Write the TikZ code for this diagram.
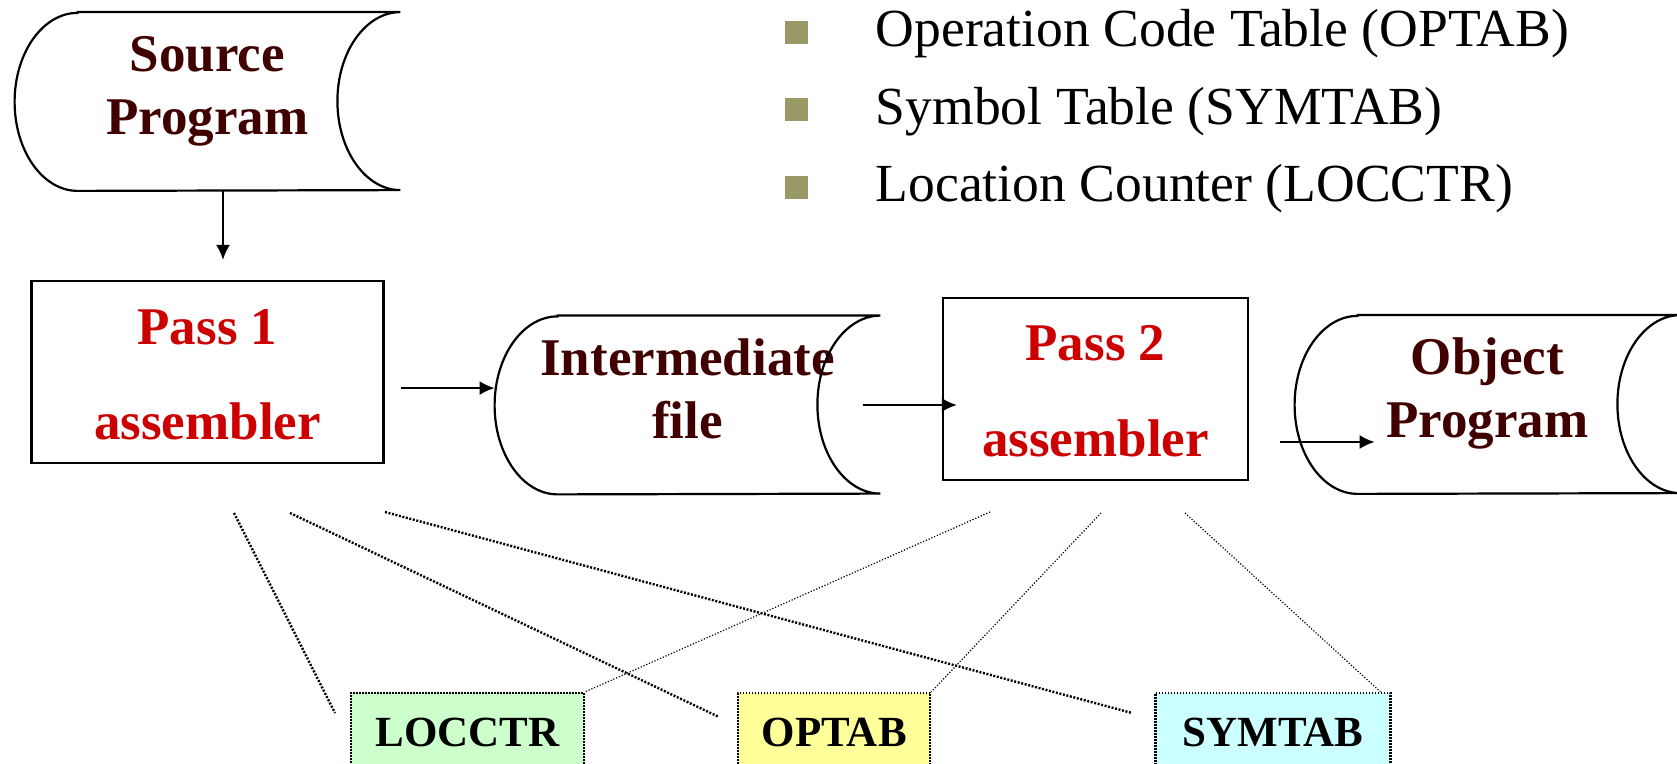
\documentclass[tikz,border=0pt]{standalone}
\usepackage{fontspec}
\setmainfont{Liberation Serif}
\usetikzlibrary{arrows.meta, positioning}
\definecolor{darkred}{RGB}{64,0,0}
\definecolor{passred}{RGB}{204,0,0}
\definecolor{bulletgreen}{RGB}{153,153,102}
\definecolor{locfill}{RGB}{204,255,204}
\definecolor{optfill}{RGB}{255,255,153}
\definecolor{symfill}{RGB}{204,255,255}
\tikzstyle{store} = [minimum width=192.5pt, minimum height=89pt, inner sep=0pt, align=center, text=darkred, font=\fontsize{26.5}{31.5}\selectfont\bfseries]
\tikzstyle{block} = [draw, line width=1.2pt, rectangle, minimum height=91pt, inner sep=0pt, align=center, text=passred, font=\fontsize{26.5}{31.5}\selectfont\bfseries]
\tikzstyle{tablebox} = [draw, line width=1.1pt, dash pattern=on 0.8pt off 0.7pt, minimum height=39pt, inner sep=0pt, font=\fontsize{21.5}{25}\selectfont\bfseries]
\tikzstyle{bullet} = [fill=bulletgreen, minimum size=11.5pt, inner sep=0pt]
\tikzstyle{bulletitem} = [inner sep=0pt, text height=19pt, text depth=4.5pt, font=\fontsize{26.8}{31}\selectfont]
\tikzstyle{flow} = [->, line width=1pt]
\tikzstyle{link} = [line width=1.2pt, dash pattern=on 1pt off 0.8pt]
\tikzstyle{thinlink} = [line width=0.6pt, dash pattern=on 0.6pt off 0.9pt]
% outline of a stored-data node
\newcommand{\drum}[1]{%
  \draw[line width=1.1pt] ([xshift=31.5pt]#1.north west) -- (#1.north east)
    arc[start angle=90, end angle=270, x radius=31.5pt, y radius=44.5pt]
    -- ([xshift=31.5pt]#1.south west)
    arc[start angle=270, end angle=90, x radius=31.5pt, y radius=44.5pt] -- cycle;}
\newcommand{\drumtext}[2]{\rule{0pt}{20pt}#1\\#2\rule[-18pt]{0pt}{18pt}}
\newcommand{\passtext}[1]{\rule{0pt}{22pt}Pass #1\\[16.25pt]assembler\rule[-2.25pt]{0pt}{2.25pt}}

\begin{document}
\begin{tikzpicture}[x=0.5pt, y=-0.5pt, >={Latex[length=7.5pt,width=7pt]}]
    \useasboundingbox (0,0) rectangle (1677,764);
    \clip (0,0) rectangle (1677,764);

    % files and passes
    \node [store] (src) at (207.5,101.5) {\drumtext{Source}{Program}};
    \node [block, minimum width=176pt, below=44.5pt of src] (pass1) {\passtext{1}};
    \node [store] (inter) at (687.5,405) {\drumtext{Intermediate}{file}};
    \node [block, minimum width=152.5pt] (pass2) at (1095.5,389) {\passtext{2}};
    \node [store] (obj) at (1487.5,404.5) {\drumtext{Object}{Program}};
    \drum{src}
    \drum{inter}
    \drum{obj}

    % data structures
    \node [bullet] (b1) at (796.5,32.5) {};
    \node [bullet, below=26.75pt of b1] (b2) {};
    \node [bullet, below=26.75pt of b2] (b3) {};
    \node [bulletitem, right=33.5pt of b1] (t1) {Operation Code Table (OPTAB)};
    \node [bulletitem, right=33.5pt of b2] (t2) {Symbol Table (SYMTAB)};
    \node [bulletitem, right=33.5pt of b3] (t3) {Location Counter (LOCCTR)};

    \node [tablebox, fill=locfill, minimum width=116.5pt] (loc) at (467.5,732) {LOCCTR};
    \node [tablebox, fill=optfill, minimum width=96pt, right=76pt of loc] (opt) {OPTAB};
    \node [tablebox, fill=symfill, minimum width=117.5pt, right=111.5pt of opt] (sym) {SYMTAB};

    % arrows
    \coordinate (a0) at ([xshift=7.75pt]src.south);
    \coordinate (a1) at ([shift={(8pt,-8pt)}]pass1.east);
    \coordinate (a3) at ([shift={(15.5pt,-26.5pt)}]pass2.east);
    \draw [flow, shorten >=10pt] (a0) -- (a0 |- pass1.north);
    \draw [flow] (a1) -- (a1 -| inter.west);
    \draw [flow, shorten >=-7.5pt] ([xshift=-8.5pt]inter.east) -- (inter.east -| pass2.west);
    \draw [flow, shorten >=-40pt] (a3) -- (a3 -| obj.west);

    % which pass uses what
    \coordinate (p1a) at (234,513);
    \coordinate (p1b) at (290,513);
    \coordinate (p1c) at (385,512);
    \coordinate (p2a) at (990,512);
    \coordinate (p2b) at (1101,513);
    \coordinate (p2c) at (1185,513);
    \coordinate (q1) at (335,713);
    \coordinate (q2) at (719,717);
    \coordinate (q3) at (1132,713);
    \draw [link] (p1a) -- (q1);
    \draw [link] (p1b) -- (q2);
    \draw [link] (p1c) -- (q3);
    \draw [thinlink] (p2a) -- (loc.north east);
    \draw [thinlink] (p2b) -- (opt.north east);
    \draw [thinlink] (p2c) -- ([xshift=-5.5pt]sym.north east);
\end{tikzpicture}
\end{document}
